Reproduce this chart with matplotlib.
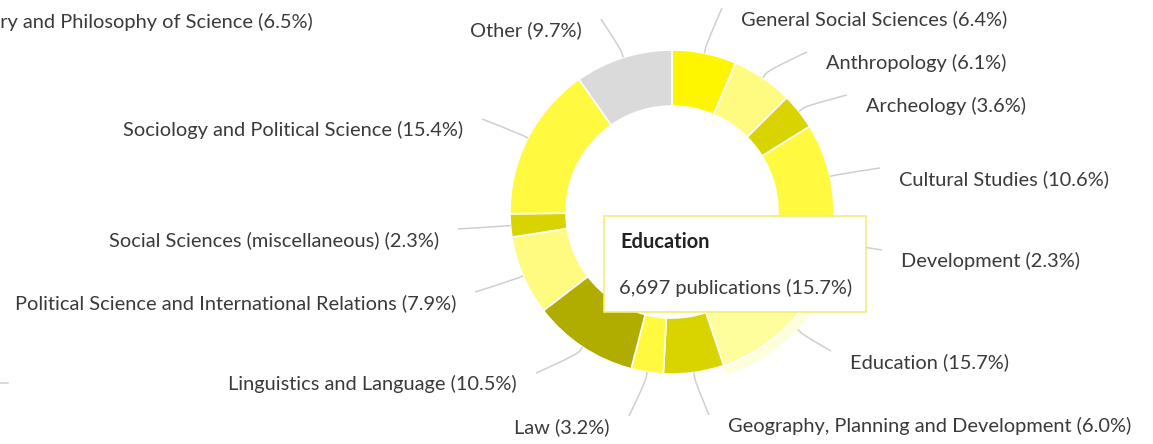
import numpy as np
import matplotlib
matplotlib.use("Agg")
import matplotlib.pyplot as plt
from matplotlib.patches import Wedge, Rectangle, PathPatch
from matplotlib.path import Path

# ---------------- data ----------------
categories = [
    "General Social Sciences", "Anthropology", "Archeology", "Cultural Studies",
    "Development", "Education", "Geography, Planning and Development", "Law",
    "Linguistics and Language", "Political Science and International Relations",
    "Social Sciences (miscellaneous)", "Sociology and Political Science", "Other",
]
shares = [6.4, 6.1, 3.6, 10.6, 2.3, 15.7, 6.0, 3.2, 10.5, 7.9, 2.3, 15.4, 9.7]
hover_category = "Education"
hover_publications = 6697

# label of the neighbouring (cropped) chart at the left edge
neighbour_labels = ["History and Philosophy of Science"]
neighbour_shares = [6.5]

# ---------------- styles / layout ----------------
colors = ["#FEF600", "#FFFA80", "#D9D300", "#FFF93F", "#B0AD00", "#FFFE9C",
          "#D9D300", "#FFF93F", "#B0AD00", "#FFFA80", "#D9D300", "#FFF93F", "#DADADA"]
# label anchor positions in pixels (x of text edge nearest the donut, y centre)
label_anchor_px = [(741, 19), (826, 63), (866, 106), (899, 179), (901, 261), (850, 362),
                   (728, 426), (610, 427), (517, 384), (456, 303), (439, 240), (463, 130),
                   (582, 30)]
neighbour_anchor_px = [(313, 22)]

W, H = 1153, 444
FONT = ["Lato", "DejaVu Sans"]
FS = 14.4
TXT = "#3a3a3a"
LINE = "#cfcfcf"

fig = plt.figure(figsize=(W / 100, H / 100), dpi=100)
ax = fig.add_axes([0, 0, 1, 1])

def py(y):
    return H - y

cx, cy = 672, py(212)
R, ring = 162, 56

wedges, _ = ax.pie(shares, colors=colors, startangle=90, counterclock=False,
                   radius=R, center=(cx, cy), frame=True,
                   wedgeprops=dict(width=ring, edgecolor="white", linewidth=1.2))
ax.set_xlim(0, W)
ax.set_ylim(0, H)
ax.set_aspect("equal")
ax.axis("off")

# hover halo on the highlighted slice
hi = categories.index(hover_category)
hw = wedges[hi]
ax.add_patch(Wedge((cx, cy), R + 10, hw.theta1, hw.theta2, width=10,
                   facecolor=colors[hi], alpha=0.35, lw=0, zorder=0.5))

# connectors + labels
for i, (cat, val) in enumerate(zip(categories, shares)):
    w = wedges[i]
    mid = np.deg2rad((w.theta1 + w.theta2) / 2)
    d = np.array([np.cos(mid), np.sin(mid)])
    r0 = R + (10 if i == hi else 0)
    T = np.array([cx, cy]) + r0 * d
    B = np.array([cx, cy]) + (r0 + 5) * d
    lx, ly = label_anchor_px[i]
    right = d[0] >= 0
    E = np.array([lx - 19 if right else lx + 19, py(ly - 11)])
    C2 = 2 * B - T
    path = Path([E, E, C2, B, T],
                [Path.MOVETO, Path.CURVE4, Path.CURVE4, Path.CURVE4, Path.LINETO])
    ax.add_patch(PathPatch(path, facecolor="none", edgecolor=LINE, lw=1.1, zorder=1))
    ax.text(lx, py(ly), f"{cat} ({val:.1f}%)", ha="left" if right else "right",
            va="center", fontsize=FS, color=TXT, family=FONT, zorder=3)

for (cat, val), (lx, ly) in zip(zip(neighbour_labels, neighbour_shares), neighbour_anchor_px):
    ax.text(lx, py(ly), f"{cat} ({val:.1f}%)", ha="right", va="center",
            fontsize=FS, color=TXT, family=FONT, zorder=3)
ax.plot([0, 8], [py(383), py(383)], color=LINE, lw=1.1)

# tooltip
ax.add_patch(Rectangle((604, py(312)), 262, 96, facecolor="white",
                       edgecolor="#F4EC7A", lw=1.2, zorder=10))
ax.text(620, py(242), hover_category, ha="left", va="center", fontsize=FS,
        fontweight="bold", color="#222222", family=FONT, zorder=11)
ax.text(619, py(288), f"{hover_publications:,} publications ({shares[hi]:.1f}%)",
        ha="left", va="center", fontsize=FS, color=TXT, family=FONT, zorder=11)

fig.savefig("out.png", dpi=100)
